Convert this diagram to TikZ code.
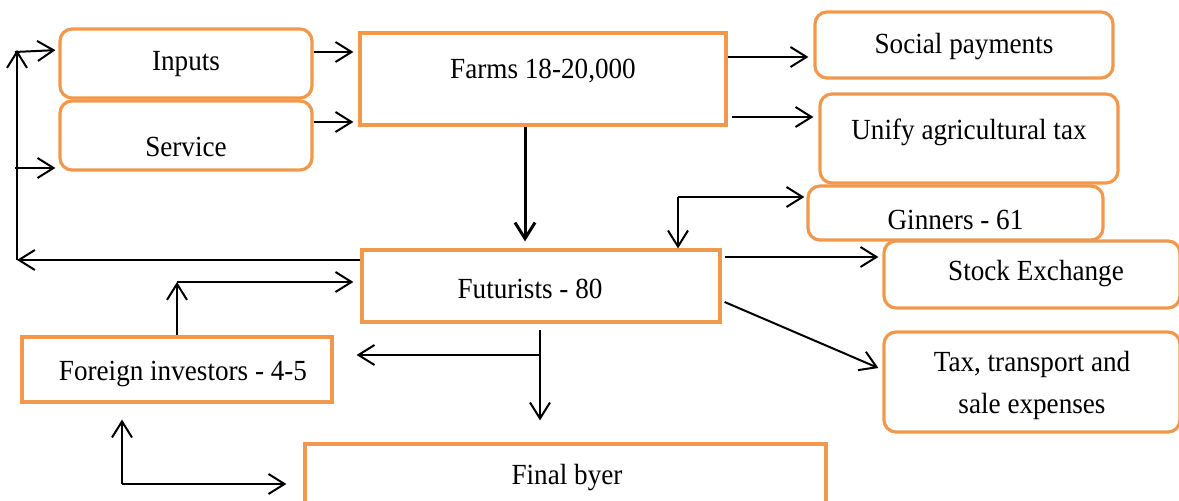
\documentclass[tikz,border=0pt]{standalone}
\usepackage{fontspec}
\setmainfont{Liberation Serif}[FakeStretch=0.93]
\usetikzlibrary{arrows.meta,calc}
\definecolor{boxorange}{RGB}{241,152,76}

\begin{document}
\begin{tikzpicture}[
    x=0.5pt, y=-0.5pt,
    font=\fontsize{14.6}{21}\selectfont,
    sqbox/.style={draw=boxorange, line width=1.6pt, rectangle, inner sep=0pt},
    rbox/.style={sqbox, rounded corners=6pt},
    txt/.style={align=center, inner sep=0pt},
    arr/.style={-{Straight Barb[length=8pt,width=10pt]}, line width=1pt}
]
    \clip (0,0) rectangle (1179,501);

    % boxes, text set as centre labels so it can sit off-centre
    \node[rbox, minimum width=126pt, minimum height=34.5pt, label={[txt,yshift=-0.5pt]center:Inputs}] (in) at (186,63.5) {};
    \node[rbox, minimum width=126pt, minimum height=34.5pt, label={[txt,yshift=-5.5pt]center:Service}] (sv) at (186,135.5) {};
    \node[sqbox, minimum width=183pt, minimum height=46pt, label={[txt,yshift=3.75pt]center:Farms 18-20,000}] (fm) at (543,79) {};
    \node[rbox, minimum width=149pt, minimum height=33pt, label={[txt,yshift=-1pt]center:Social payments}] (sp) at (964,45) {};
    \node[rbox, minimum width=149pt, minimum height=44.5pt, label={[txt,yshift=3.25pt]center:Unify agricultural tax}] (ut) at (969,138.5) {};
    \node[rbox, minimum width=147.5pt, minimum height=27pt, label={[txt,yshift=-3.25pt]center:Ginners - 61}] (gn) at (955.5,213) {};
    \node[rbox, minimum width=148pt, minimum height=33.5pt, label={[txt,xshift=2pt,yshift=0.25pt]center:Stock Exchange}] (se) at (1032,274.5) {};
    \node[rbox, minimum width=148pt, minimum height=50pt, label={[txt,yshift=-1.75pt]center:Tax, transport and\\sale expenses}] (tx) at (1032,382) {};
    \node[sqbox, minimum width=179pt, minimum height=36pt, label={[txt,xshift=-5.5pt,yshift=-1.25pt]center:Futurists - 80}] (fut) at (541,286) {};
    \node[sqbox, minimum width=155pt, minimum height=32.5pt, label={[txt,xshift=3pt,yshift=-2pt]center:Foreign investors - 4-5}] (fi) at (177,369.5) {};
    \node[sqbox, minimum width=260.5pt, minimum height=33pt, label={[txt,xshift=0.75pt,yshift=-0.25pt]center:Final byer}] (fb) at (565.5,477) {};

    % helper points for the connectors
    \coordinate (inR) at ($(in.east)+(0,-11.5)$);
    \coordinate (svR) at ($(sv.east)+(0,-13.5)$);
    \coordinate (fmA) at ($(fm.east)+(0,-22)$);
    \coordinate (fmB) at ($(fm.east)+(4,38)$);
    \coordinate (fmC) at ($(fm.south)+(-18,0)$);
    \coordinate (gnK) at (678,197);
    \coordinate (futA) at ($(fut.east)+(3,-29)$);
    \coordinate (futB) at ($(fut.east)+(3,16)$);
    \coordinate (txIn) at ($(tx.west)+(-4,-14)$);
    \coordinate (futD) at ($(fut.south)+(-1,6)$);
    \coordinate (futE) at (540,355);
    \coordinate (fiK) at (177,282);
    \coordinate (fiL) at (122,484);
    \coordinate (lpB) at (17,260);
    \coordinate (lpT) at (17,50);
    \coordinate (lpS) at (17,168);

    % feedback loop on the left
    \draw[arr] (lpB -| fut.west) -- (lpB);
    \draw[arr] (lpB) -- (lpT);
    \draw[arr, shorten >=1.5pt] ($(lpT)+(-2,2)$) -- (lpT -| in.west);
    \draw[arr, shorten >=1.5pt] ($(lpS)+(-2,0)$) -- (lpS -| sv.west);

    % into and out of the farms
    \draw[arr, shorten >=2.5pt] (inR) -- (inR -| fm.west);
    \draw[arr, shorten >=2.5pt] (svR) -- (svR -| fm.west);
    \draw[arr, shorten >=2.5pt] (fmA) -- (fmA -| sp.west);
    \draw[arr, shorten >=2.5pt] (fmB) -- (fmB -| ut.west);
    \draw[arr, line width=1.5pt, shorten >=3.5pt] (fmC) -- (fmC |- fut.north);

    % ginners, both ways
    \draw[arr] (gnK) -- (gnK |- fut.north);
    \draw[arr, shorten >=1pt] (gnK) -- (gnK -| gn.west);

    % out of the futurists
    \draw[arr, shorten >=2pt] (futA) -- (futA -| se.west);
    \draw[arr] (futB) -- (txIn);
    \draw[arr, shorten >=11pt] (futD) -- (futD |- fb.north);
    \draw[arr, shorten >=11.5pt] (futE) -- (futE -| fi.east);

    % foreign investors
    \draw[arr] (fi.north -| fiK) -- (fiK);
    \draw[arr, shorten >=3.5pt] (fiK) -- (fiK -| fut.west);
    \draw[arr, shorten >=8pt] (fiL) -- (fiL |- fi.south);
    \draw[arr, shorten >=8.5pt] (fiL) -- (fiL -| fb.west);
\end{tikzpicture}
\end{document}
